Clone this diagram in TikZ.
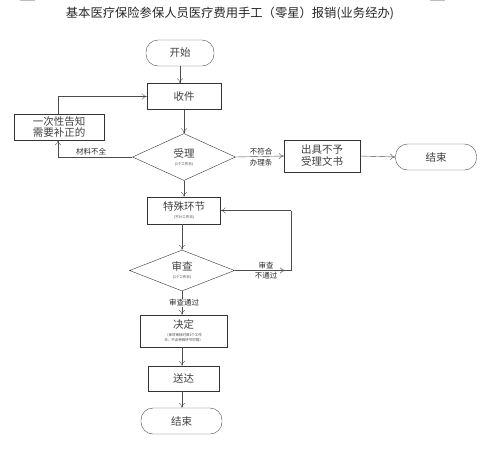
\documentclass[tikz,border=0pt]{standalone}
\usepackage{fontspec}
\setmainfont{Noto Sans CJK SC}
\usetikzlibrary{shapes.geometric,arrows.meta}
\newcommand{\tinyf}{\fontsize{3.5}{4}\selectfont}
\begin{document}
\begin{tikzpicture}[x=1pt,y=-1pt,
  every node/.style={inner sep=0pt, text=black!75},
  term/.style={draw=black!70, rounded corners=12pt, minimum width=#1, minimum height=26pt, font=\fontsize{10.5}{12}\selectfont},
  term/.default=70pt,
  box/.style={draw=black!80, minimum width=74pt, minimum height=26pt, align=center, font=\fontsize{10.5}{12}\selectfont},
  dia/.style={draw=black!80, diamond, aspect=2.2, minimum width=103pt, minimum height=47pt, align=center, font=\fontsize{10.5}{12}\selectfont},
  lbl/.style={font=\fontsize{7.5}{8.5}\selectfont, text=black!85},
  arr/.style={draw=black!70, -{To[length=5pt,width=6pt]}},
  ln/.style={draw=black!70}]
\useasboundingbox (0,0) rectangle (496,448);
\fill[black!25] (20,0) rectangle (35,1.2);
\fill[black!25] (430,0) rectangle (445,1.2);
\node[font=\fontsize{12.3}{14}\selectfont, text=black!85] (title) at (230,13) {基本医疗保险参保人员医疗费用手工（零星）报销(业务经办)};

\node[term=68pt] (start) at (180,53) {开始};
\node[box] (recv) at (184,96.5) {收件};
\node[box, minimum width=90pt] (notify) at (59,127) {一次性告知\\需要补正的};
\node[dia] (accept) at (184,157) {受理\\[-4pt]\tinyf (1个工作日)};
\node[box, minimum width=76pt, minimum height=32pt] (reject) at (322,156) {出具不予\\受理文书};
\node[term=81pt] (end1) at (436,157) {结束};
\node[box, minimum width=73pt, minimum height=27pt] (special) at (184,210.5) {特殊环节\\[-4pt]\tinyf (不计工作日)};
\node[dia, minimum width=105pt, minimum height=41pt] (review) at (182,270.5) {审查\\[-4pt]\tinyf (1个工作日)};
\node[box, minimum width=87pt, minimum height=32pt] (decide) at (183.5,331) {决定\\[-4pt]\tinyf （单项审核时限1个工作\\[-7pt]\tinyf 日，不含特殊环节时限）};
\node[box, minimum width=71pt, minimum height=25pt] (deliver) at (183.5,378.5) {送达};
\node[term=81pt] (end2) at (181.5,421) {结束};

\coordinate (c1) at (58,96.5);
\coordinate (c2) at (58,157);
\coordinate (c3) at (291,270.5);
\coordinate (c4) at (291,210.5);
\coordinate (c5) at (285,270.5);
\coordinate (x1) at (182,0);

\draw[arr] (start.south) -- (start.south |- recv.north);
\draw[ln] (notify.north -| c1) -- (c1);
\draw[arr] (c1) -- (recv.west);
\draw[arr] (recv) -- (accept.north);
\draw[ln] (accept.west) -- (c2);
\draw[arr] (c2) -- (notify.south -| c2);
\node[lbl, anchor=south] (l1) at (91,155) {材料不全};
\draw[arr] (accept.east) -- (reject.west);
\node[lbl, anchor=south] (l2) at (261,155) {不符合};
\node[lbl, anchor=north] (l3) at (261,159) {办理条};
\draw[arr] (reject.east) -- (end1.west);
\draw[arr] (accept.south) -- (special.north);
\draw[arr] (special.south -| x1) -- (review.north);
\draw[arr] (review.east) -- (c5);
\draw[ln] (c5) -- (c3) -- (c4);
\draw[arr] (c4) -- (special.east);
\node[lbl, anchor=south] (l4) at (266,269) {审查};
\node[lbl, anchor=north] (l5) at (266,272) {不通过};
\draw[arr] (review.south) -- (decide.north -| review.south);
\node[lbl, anchor=center, fill=white, inner sep=0.5pt] (l6) at (184,303) {审查通过};
\draw[arr] (decide.south -| x1) -- (deliver.north -| x1);
\draw[arr] (deliver.south -| x1) -- (end2.north -| x1);
\end{tikzpicture}
\end{document}
